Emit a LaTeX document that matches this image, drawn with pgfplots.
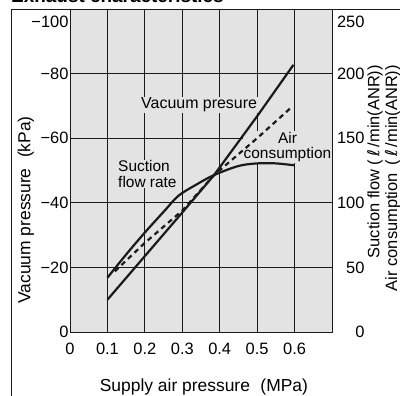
\documentclass[border=0pt]{standalone}
\usepackage{pgfplots}
\pgfplotsset{compat=1.18}
\usepackage{fontspec}
\setmainfont{Liberation Sans}
\newfontfamily\dejavu{DejaVu Sans}
\definecolor{bg}{HTML}{E3E3E3}
\definecolor{ink}{HTML}{1A1A1A}
\newcommand{\ltr}{{\dejavu\itshape ℓ}}
\begin{document}
\begin{tikzpicture}[x=1bp,y=1bp]
\useasboundingbox (0,0) rectangle (400,396);
\draw[ink, line width=0.8bp] (11,0) -- (11,387) -- (400,387);
\node[anchor=base west, font=\fontsize{19}{19}\selectfont\bfseries, inner sep=0] at (11,393.5) {Exhaust characteristics};
\begin{axis}[
  at={(70bp,64bp)}, anchor=south west, scale only axis,
  width=262bp, height=323bp,
  xmin=0, xmax=0.7, ymin=0, ymax=100,
  axis background/.style={fill=bg},
  xtick={0,0.1,0.2,0.3,0.4,0.5,0.6},
  xticklabels={0,0.1,0.2,0.3,0.4,0.5,0.6},
  ytick={0,20,40,60,80,100},
  yticklabels={0,−20,−40,−60,−80,\raisebox{-19bp}[0pt][0pt]{−100}},
  grid=major, major grid style={ink, line width=0.8bp},
  tick style={draw=none},
  axis line style={ink, line width=0.8bp},
  ticklabel style={font=\fontsize{16.5}{16.5}\selectfont},
  xticklabel style={yshift=-8bp},
  yticklabel style={xshift=2bp},
  xlabel={Supply air pressure\hspace{0.6em}(MPa)},
  xlabel style={at={(rel axis cs:0.511,-0.170)}, anchor=center, font=\fontsize{17.5}{17.5}\selectfont},
  ylabel={Vacuum pressure\hspace{0.6em}(kPa)},
  ylabel style={at={(rel axis cs:-0.168,0.378)}, anchor=center, rotate=0, font=\fontsize{17.5}{17.5}\selectfont},
  clip=false,
]
\node[fill=bg, inner sep=1bp, font=\fontsize{16}{16}\selectfont] at (axis cs:0.345,70.3) {Vacuum presure};
\node[fill=bg, inner sep=1bp, align=center, font=\fontsize{15.5}{15.5}\selectfont] at (axis cs:0.581,57.3) {Air\\consumption};
\node[fill=bg, inner sep=1bp, anchor=west, align=left, font=\fontsize{15.5}{15.5}\selectfont] at (axis cs:0.1256,48.9) {Suction\\flow rate};
\addplot[ink, line width=2.2bp] coordinates {
  (0.1,10) (0.2,23.5) (0.3,37) (0.385,48.6) (0.5,66.8) (0.597,82.7)
};
\end{axis}
\begin{axis}[
  at={(70bp,64bp)}, anchor=south west, scale only axis,
  width=262bp, height=323bp,
  xmin=0, xmax=0.7, ymin=0, ymax=250,
  axis x line=none, axis y line*=right,
  ytick={0,50,100,150,200,250},
  yticklabels={0,50,100,150,200,\raisebox{-19bp}[0pt][0pt]{250}},
  tick style={draw=none},
  axis line style={ink, line width=0.8bp},
  ticklabel style={font=\fontsize{16.5}{16.5}\selectfont},
  yticklabel style={anchor=east, xshift=36bp},
  clip=false,
]
\addplot[ink, line width=2.2bp, smooth, tension=0.5] coordinates {
  (0.1,42) (0.15,60) (0.2,77) (0.25,93) (0.29,105.5) (0.34,114.5) (0.385,121.5) (0.45,128.5) (0.5,130.5) (0.55,130.5) (0.6,129)
};
\addplot[ink, line width=2.2bp, dash pattern=on 5bp off 4bp] coordinates {
  (0.12,47) (0.2,69) (0.3,94) (0.385,121.5) (0.5,150) (0.59,173.5)
};
\node[rotate=90, anchor=east, align=right, inner sep=0pt, font=\fontsize{16.5}{18}\selectfont] at (rel axis cs:1.198,0.827) {Suction flow (\,\ltr\,/min(ANR))\\Air consumption\hspace{0.5em}(\,\ltr\,/min(ANR))};
\end{axis}
\end{tikzpicture}
\end{document}
